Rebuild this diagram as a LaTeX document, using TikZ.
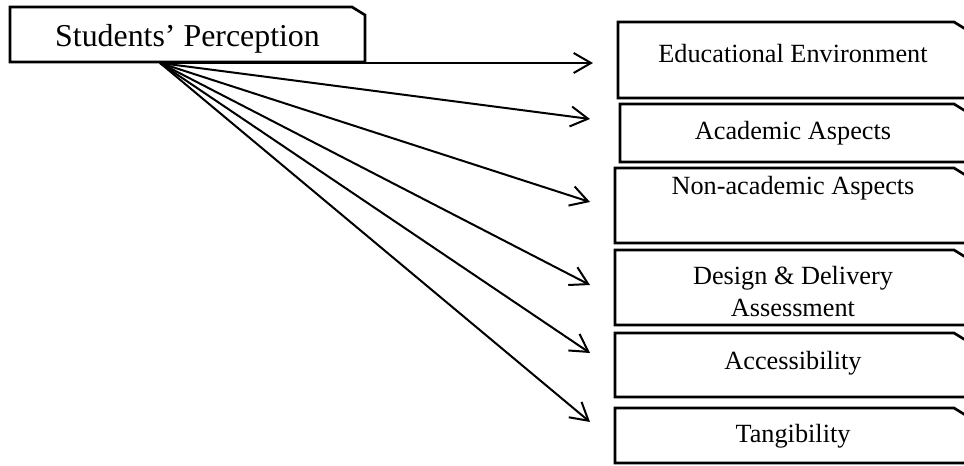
\documentclass[tikz,border=0pt]{standalone}
\usepackage{fontspec}
\setmainfont{Liberation Serif}
\usetikzlibrary{arrows.meta}

\tikzset{
  framed/.style={line width=2pt, line join=miter},
  holder/.style={inner sep=0pt, outer sep=0pt},
  link/.style={line width=1.5pt,-{Straight Barb[length=13pt,width=15pt]}},
  headtext/.style={font=\fontsize{23.9}{28}\selectfont},
  itemtext/.style={font=\fontsize{19.7}{24}\selectfont, align=center}
}
% box with the top right corner cut off
\newcommand{\cutframe}[1]{%
  \draw[framed] (#1.south west) -- (#1.north west) -- ([xshift=-9.75pt]#1.north east)
    -- ([yshift=-6pt]#1.north east) -- (#1.south east) -- cycle;}

\begin{document}
\begin{tikzpicture}[x=0.75pt,y=-0.75pt]
            \useasboundingbox (0,0) rectangle (964,466);
            % boxes
            \node[holder, minimum width=266.25pt, minimum height=41.25pt] (perc) at (187.5,34.5) {};
            \node[holder, minimum width=261.75pt, minimum height=57pt] (envi) at (792.5,60) {};
            \node[holder, minimum width=260.25pt, minimum height=43.5pt] (acad) at (793.5,133) {};
            \node[holder, minimum width=264pt, minimum height=56.25pt] (nona) at (791,205.5) {};
            \node[holder, minimum width=264pt, minimum height=56.25pt] (desi) at (791,287.5) {};
            \node[holder, minimum width=264pt, minimum height=48pt] (acce) at (791,365) {};
            \node[holder, minimum width=264pt, minimum height=41.25pt] (tang) at (791,435.5) {};
            \cutframe{perc}
            \cutframe{envi}
            \cutframe{acad}
            \cutframe{nona}
            \cutframe{desi}
            \cutframe{acce}
            \cutframe{tang}
            % texts
            \node[headtext, anchor=base] (percT) at (187.5,47) {Students’ Perception};
            \node[itemtext, anchor=base] (enviT) at (793,63) {Educational Environment};
            \node[itemtext, anchor=base] (acadT) at (793,140) {Academic Aspects};
            \node[itemtext, anchor=base] (nonaT) at (793,195) {Non-academic Aspects};
            \node[itemtext] (desiT) at (793,292) {Design \& Delivery\\Assessment};
            \node[itemtext, anchor=base] (acceT) at (793,370) {Accessibility};
            \node[itemtext, anchor=base] (tangT) at (793,443) {Tangibility};
            % arrows
            \coordinate (hub) at (160,63);
            \coordinate (toEnvi) at (593,63);
            \coordinate (toAcad) at (590,119);
            \coordinate (toNona) at (590,202);
            \coordinate (toDesi) at (590,285);
            \coordinate (toAcce) at (590,353);
            \coordinate (toTang) at (590,422);
            \draw[link] (hub) -- (toEnvi);
            \draw[link] (hub) -- (toAcad);
            \draw[link] (hub) -- (toNona);
            \draw[link] (hub) -- (toDesi);
            \draw[link] (hub) -- (toAcce);
            \draw[link] (hub) -- (toTang);
\end{tikzpicture}
\end{document}
